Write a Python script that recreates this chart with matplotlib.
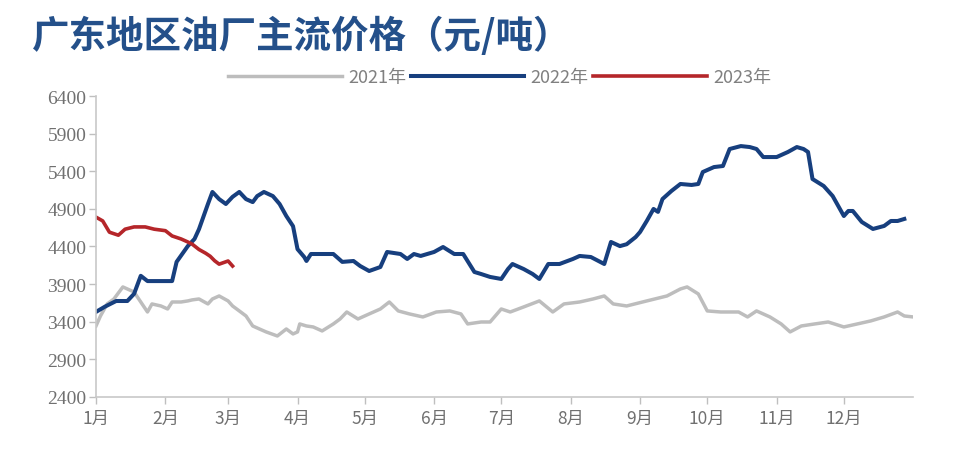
import matplotlib.pyplot as plt
import numpy as np

plt.rcParams['font.family'] = ['Noto Sans CJK SC', 'DejaVu Sans']

# day of year -> price (元/吨)
d2021 = [0, 2, 5, 8, 12, 17, 20, 23, 25, 29, 32, 34, 38, 41, 43, 46, 50, 52, 55, 59,
         61, 64, 67, 70, 73, 76, 81, 85, 88, 90, 91, 94, 97, 101, 106, 109, 112, 117,
         119, 122, 127, 131, 135, 140, 146, 152, 158, 163, 166, 172, 176, 181, 185,
         191, 198, 204, 209, 216, 222, 227, 231, 237, 246, 255, 261, 264, 269, 273,
         279, 287, 291, 295, 301, 306, 310, 315, 321, 327, 334, 340, 346, 352, 358,
         361, 365]
v2021 = [3343, 3476, 3636, 3702, 3862, 3795, 3662, 3529, 3636, 3609, 3569, 3662, 3662,
         3676, 3690, 3702, 3636, 3702, 3742, 3676, 3609, 3543, 3476, 3343, 3303, 3264,
         3210, 3303, 3237, 3264, 3370, 3343, 3330, 3277, 3370, 3436, 3529, 3436, 3463,
         3503, 3569, 3662, 3543, 3503, 3463, 3529, 3543, 3503, 3370, 3396, 3396, 3569,
         3529, 3596, 3676, 3529, 3636, 3662, 3702, 3742, 3636, 3609, 3676, 3742, 3835,
         3862, 3769, 3543, 3529, 3529, 3463, 3543, 3463, 3370, 3264, 3343, 3370, 3396,
         3330, 3370, 3410, 3463, 3529, 3476, 3463]

d2022 = [0, 4, 9, 14, 17, 20, 23, 29, 34, 36, 41, 44, 46, 50, 52, 55, 58, 61, 64, 67,
         70, 72, 75, 79, 82, 85, 88, 90, 93, 94, 96, 100, 106, 110, 115, 118, 122, 127,
         130, 136, 139, 142, 145, 151, 155, 160, 164, 169, 172, 176, 181, 184, 186, 191,
         195, 198, 202, 207, 213, 216, 221, 227, 230, 234, 237, 241, 243, 246, 249, 251,
         253, 257, 261, 266, 269, 271, 276, 280, 283, 288, 292, 295, 298, 301, 304, 309,
         313, 316, 318, 320, 325, 329, 334, 336, 338, 342, 347, 352, 355, 358, 361]
v2022 = [3530, 3600, 3675, 3675, 3770, 4010, 3940, 3940, 3940, 4195, 4405, 4500, 4630,
         4965, 5125, 5030, 4965, 5060, 5125, 5030, 4990, 5070, 5125, 5070, 4965, 4805,
         4670, 4365, 4260, 4207, 4300, 4300, 4300, 4195, 4207, 4140, 4074, 4127, 4327,
         4300, 4234, 4300, 4274, 4327, 4393, 4300, 4300, 4061, 4034, 3995, 3968, 4100,
         4167, 4100, 4034, 3968, 4167, 4167, 4234, 4274, 4260, 4167, 4460, 4405, 4430,
         4525, 4593, 4740, 4899, 4860, 5031, 5138, 5231, 5218, 5231, 5390, 5456, 5470,
         5696, 5735, 5722, 5696, 5589, 5589, 5589, 5656, 5722, 5696, 5656, 5297, 5204,
         5071, 4805, 4872, 4872, 4726, 4633, 4673, 4739, 4739, 4766]

d2023 = [0, 3, 6, 10, 13, 17, 22, 26, 31, 34, 38, 41, 43, 46, 49, 51, 53, 55, 59, 61]
v2023 = [4790, 4740, 4590, 4550, 4630, 4660, 4660, 4630, 4610, 4540, 4500, 4460, 4430,
         4360, 4310, 4270, 4210, 4165, 4207, 4140]

month_starts = [0, 31, 59, 90, 120, 151, 181, 212, 243, 273, 304, 334]
month_labels = ['1月', '2月', '3月', '4月', '5月', '6月', '7月', '8月', '9月', '10月', '11月', '12月']
yticks = [2400, 2900, 3400, 3900, 4400, 4900, 5400, 5900, 6400]

fig = plt.figure(figsize=(9.57, 4.6), dpi=100)
ax = fig.add_axes([0.1003, 0.135, 0.854, 0.654])

ax.plot(d2021, v2021, color='#bdbdbd', lw=2.5, label='2021年')
ax.plot(d2022, v2022, color='#173f7e', lw=2.9, label='2022年')
ax.plot(d2023, v2023, color='#b5262a', lw=2.6, label='2023年')

ax.set_xlim(0, 365)
ax.set_ylim(2400, 6400)
ax.set_xticks(month_starts)
ax.set_xticklabels(month_labels, fontsize=12.5, color='#707070')
ax.set_yticks(yticks)
ax.set_yticklabels([str(v) for v in yticks], fontsize=14, color='#707070',
                   family='Liberation Serif')
ax.tick_params(axis='both', direction='out', length=5, color='#bfbfbf', width=1)
ax.tick_params(axis='x', pad=4)
ax.tick_params(axis='y', pad=2)

for s in ['top', 'right']:
    ax.spines[s].set_visible(False)
for s in ['left', 'bottom']:
    ax.spines[s].set_color('#c8c8c8')
    ax.spines[s].set_linewidth(1.2)

leg = fig.legend(loc='center', bbox_to_anchor=(0.522, 0.83), ncol=3, frameon=False,
                 handlelength=6.3, handletextpad=0.35, columnspacing=0.25,
                 prop={'size': 13})
for t in leg.get_texts():
    t.set_color('#808080')

fig.text(0.033, 0.922, '广东地区油厂主流价格（元/吨）', fontsize=27, fontweight='bold',
         color='#24508a', va='center', ha='left')

fig.savefig('out.png', dpi=100)
